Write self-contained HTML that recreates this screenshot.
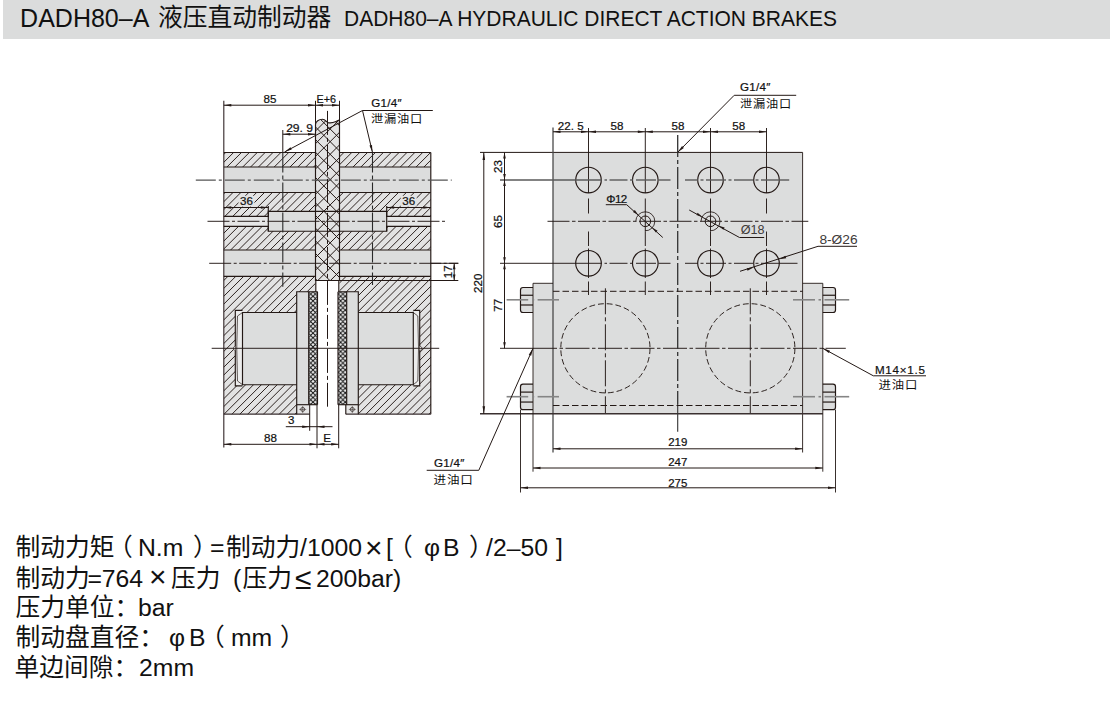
<!DOCTYPE html>
<html lang="zh-CN">
<head>
<meta charset="utf-8">
<title>DADH80-A 液压直动制动器</title>
<style>
html,body{margin:0;padding:0;background:#fff;}
body{width:1116px;height:703px;position:relative;overflow:hidden;font-family:"Liberation Sans","Noto Sans CJK SC",sans-serif;color:#111;}
#hdr{position:absolute;left:3px;top:0;width:1107px;height:38.5px;background:#dbdcdc;}
.h{position:absolute;white-space:nowrap;line-height:1;}
#dw{position:absolute;left:0;top:0;}
#dw text.d{font-family:"Liberation Sans",sans-serif;fill:#111;stroke:#111;stroke-width:0.22px;}
#dw text.a{font-family:"Liberation Sans",sans-serif;}
#dw text.c{font-family:"Liberation Sans","Noto Sans CJK SC",sans-serif;fill:#111;font-weight:400;letter-spacing:0.75px;}
.n{position:absolute;white-space:nowrap;font-size:24.75px;line-height:30px;height:30px;}
</style>
</head>
<body>
<div id="hdr"></div>
<span id="h1" class="h" style="left:20.10px;top:6.0px;font-size:25px;">DADH80–A</span>
<span id="h2" class="h" style="left:158.00px;top:6.0px;font-size:24.75px;">液压直动制动器</span>
<span id="h3" class="h" style="left:344.00px;top:7.5px;font-size:22px;transform:scaleX(0.954);transform-origin:0 0;">DADH80–A HYDRAULIC DIRECT ACTION BRAKES</span>
<svg id="dw" width="1116" height="703" viewBox="0 0 1116 703">
<defs>
<clipPath id="hc"><path d="M223.80,152.50H315.50V167.00H223.80ZM223.80,192.50H315.50V211.30H223.80ZM223.80,211.30H268.30V216.30H223.80ZM223.80,226.30H268.30V231.20H223.80ZM223.80,231.20H315.50V250.00H223.80ZM223.80,276.30H315.50V291.70H223.80ZM223.80,291.70H296.70V310.30H223.80ZM223.80,310.30H235.30V385.80H223.80ZM223.80,385.80H242.50V414.20H223.80ZM242.50,384.70H296.70V414.20H242.50ZM242.50,310.30H296.70V312.50H242.50ZM339.50,152.50H430.80V167.00H339.50ZM339.50,192.50H430.80V211.30H339.50ZM386.70,211.30H430.80V216.30H386.70ZM386.70,226.30H430.80V231.20H386.70ZM339.50,231.20H430.80V250.00H339.50ZM339.50,276.30H430.80V291.70H339.50ZM358.30,291.70H430.80V310.30H358.30ZM419.70,310.30H430.80V385.80H419.70ZM413.30,385.80H430.80V414.20H413.30ZM358.30,384.70H413.30V414.20H358.30ZM358.30,310.30H413.30V312.50H358.30Z"/></clipPath>
<clipPath id="dc"><path d="M315.5,280.5 V124.5 C315.5,121.5 319.0,119.2 322.5,119.2 C325.5,119.2 326.0,121.8 328.0,122.6 C330.5,123.4 333.5,122.6 336.0,121.5 C338.0,120.6 339.5,119.8 339.5,119.6 V280.5 Z"/></clipPath>
<clipPath id="pc"><path d="M308.70,291.70H317.50V404.70H308.70ZM338.00,291.70H346.70V404.70H338.00Z"/></clipPath>
<pattern id="fx" patternUnits="userSpaceOnUse" width="4.6" height="4.6" x="308.4" y="291.7"><path d="M-1,-1L5.6,5.6M5.6,-1L-1,5.6" stroke="#111" stroke-width="1.0" fill="none"/></pattern>
</defs>
<rect x="223.80" y="152.50" width="91.70" height="261.70" fill="#e3e3e3" stroke="none"/>
<rect x="339.50" y="152.50" width="91.30" height="261.70" fill="#e3e3e3" stroke="none"/>
<rect x="315.50" y="280.50" width="24.00" height="134.70" fill="#fff" stroke="none"/>
<rect x="296.70" y="404.70" width="18.80" height="10.50" fill="#fff" stroke="none"/>
<rect x="339.50" y="404.70" width="18.80" height="10.50" fill="#fff" stroke="none"/>
<rect x="223.80" y="167.00" width="91.70" height="25.50" fill="#dcdddd" stroke="none"/>
<rect x="339.50" y="167.00" width="91.30" height="25.50" fill="#dcdddd" stroke="none"/>
<rect x="223.80" y="250.00" width="91.70" height="26.30" fill="#dcdddd" stroke="none"/>
<rect x="339.50" y="250.00" width="91.30" height="26.30" fill="#dcdddd" stroke="none"/>
<rect x="223.80" y="216.30" width="44.50" height="10.00" fill="#e6e6e6" stroke="none"/>
<rect x="268.30" y="211.30" width="47.20" height="19.90" fill="#dcdddd" stroke="none"/>
<rect x="339.50" y="211.30" width="47.20" height="19.90" fill="#dcdddd" stroke="none"/>
<rect x="386.70" y="216.30" width="44.10" height="10.00" fill="#e6e6e6" stroke="none"/>
<rect x="242.50" y="312.50" width="54.20" height="72.20" fill="#dcdddd" stroke="none"/>
<rect x="358.30" y="312.50" width="55.00" height="72.20" fill="#dcdddd" stroke="none"/>
<rect x="235.30" y="310.30" width="7.20" height="75.50" fill="#ececec" stroke="none"/>
<rect x="413.30" y="310.30" width="6.40" height="75.50" fill="#ececec" stroke="none"/>
<rect x="296.70" y="291.70" width="12.00" height="113.00" fill="#dcdddd" stroke="none"/>
<rect x="346.70" y="291.70" width="11.60" height="113.00" fill="#dcdddd" stroke="none"/>
<rect x="308.40" y="291.70" width="9.10" height="113.00" fill="#f2f2f2" stroke="none"/>
<rect x="338.30" y="291.70" width="8.50" height="113.00" fill="#f2f2f2" stroke="none"/>
<rect x="296.70" y="404.70" width="13.00" height="9.50" fill="#e6e6e6" stroke="none"/>
<rect x="345.80" y="404.70" width="12.50" height="9.50" fill="#e6e6e6" stroke="none"/>
<path d="M315.5,280.5 V124.5 C315.5,121.5 319.0,119.2 322.5,119.2 C325.5,119.2 326.0,121.8 328.0,122.6 C330.5,123.4 333.5,122.6 336.0,121.5 C338.0,120.6 339.5,119.8 339.5,119.6 V280.5 Z" fill="#e3e3e3" stroke="none"/>
<g clip-path="url(#hc)">
<line x1="211.94" y1="150.50" x2="-53.76" y2="416.20" stroke="#231815" stroke-width="0.95"/>
<line x1="219.82" y1="150.50" x2="-45.88" y2="416.20" stroke="#231815" stroke-width="0.95"/>
<line x1="227.70" y1="150.50" x2="-38.00" y2="416.20" stroke="#231815" stroke-width="0.95"/>
<line x1="235.58" y1="150.50" x2="-30.12" y2="416.20" stroke="#231815" stroke-width="0.95"/>
<line x1="243.46" y1="150.50" x2="-22.24" y2="416.20" stroke="#231815" stroke-width="0.95"/>
<line x1="251.34" y1="150.50" x2="-14.36" y2="416.20" stroke="#231815" stroke-width="0.95"/>
<line x1="259.22" y1="150.50" x2="-6.48" y2="416.20" stroke="#231815" stroke-width="0.95"/>
<line x1="267.10" y1="150.50" x2="1.40" y2="416.20" stroke="#231815" stroke-width="0.95"/>
<line x1="274.98" y1="150.50" x2="9.28" y2="416.20" stroke="#231815" stroke-width="0.95"/>
<line x1="282.86" y1="150.50" x2="17.16" y2="416.20" stroke="#231815" stroke-width="0.95"/>
<line x1="290.74" y1="150.50" x2="25.04" y2="416.20" stroke="#231815" stroke-width="0.95"/>
<line x1="298.62" y1="150.50" x2="32.92" y2="416.20" stroke="#231815" stroke-width="0.95"/>
<line x1="306.50" y1="150.50" x2="40.80" y2="416.20" stroke="#231815" stroke-width="0.95"/>
<line x1="314.38" y1="150.50" x2="48.68" y2="416.20" stroke="#231815" stroke-width="0.95"/>
<line x1="322.26" y1="150.50" x2="56.56" y2="416.20" stroke="#231815" stroke-width="0.95"/>
<line x1="330.14" y1="150.50" x2="64.44" y2="416.20" stroke="#231815" stroke-width="0.95"/>
<line x1="338.02" y1="150.50" x2="72.32" y2="416.20" stroke="#231815" stroke-width="0.95"/>
<line x1="345.90" y1="150.50" x2="80.20" y2="416.20" stroke="#231815" stroke-width="0.95"/>
<line x1="353.78" y1="150.50" x2="88.08" y2="416.20" stroke="#231815" stroke-width="0.95"/>
<line x1="361.66" y1="150.50" x2="95.96" y2="416.20" stroke="#231815" stroke-width="0.95"/>
<line x1="369.54" y1="150.50" x2="103.84" y2="416.20" stroke="#231815" stroke-width="0.95"/>
<line x1="377.42" y1="150.50" x2="111.72" y2="416.20" stroke="#231815" stroke-width="0.95"/>
<line x1="385.30" y1="150.50" x2="119.60" y2="416.20" stroke="#231815" stroke-width="0.95"/>
<line x1="393.18" y1="150.50" x2="127.48" y2="416.20" stroke="#231815" stroke-width="0.95"/>
<line x1="401.06" y1="150.50" x2="135.36" y2="416.20" stroke="#231815" stroke-width="0.95"/>
<line x1="408.94" y1="150.50" x2="143.24" y2="416.20" stroke="#231815" stroke-width="0.95"/>
<line x1="416.82" y1="150.50" x2="151.12" y2="416.20" stroke="#231815" stroke-width="0.95"/>
<line x1="424.70" y1="150.50" x2="159.00" y2="416.20" stroke="#231815" stroke-width="0.95"/>
<line x1="432.58" y1="150.50" x2="166.88" y2="416.20" stroke="#231815" stroke-width="0.95"/>
<line x1="440.46" y1="150.50" x2="174.76" y2="416.20" stroke="#231815" stroke-width="0.95"/>
<line x1="448.34" y1="150.50" x2="182.64" y2="416.20" stroke="#231815" stroke-width="0.95"/>
<line x1="456.22" y1="150.50" x2="190.52" y2="416.20" stroke="#231815" stroke-width="0.95"/>
<line x1="464.10" y1="150.50" x2="198.40" y2="416.20" stroke="#231815" stroke-width="0.95"/>
<line x1="471.98" y1="150.50" x2="206.28" y2="416.20" stroke="#231815" stroke-width="0.95"/>
<line x1="479.86" y1="150.50" x2="214.16" y2="416.20" stroke="#231815" stroke-width="0.95"/>
<line x1="487.74" y1="150.50" x2="222.04" y2="416.20" stroke="#231815" stroke-width="0.95"/>
<line x1="495.62" y1="150.50" x2="229.92" y2="416.20" stroke="#231815" stroke-width="0.95"/>
<line x1="503.50" y1="150.50" x2="237.80" y2="416.20" stroke="#231815" stroke-width="0.95"/>
<line x1="511.38" y1="150.50" x2="245.68" y2="416.20" stroke="#231815" stroke-width="0.95"/>
<line x1="519.26" y1="150.50" x2="253.56" y2="416.20" stroke="#231815" stroke-width="0.95"/>
<line x1="527.14" y1="150.50" x2="261.44" y2="416.20" stroke="#231815" stroke-width="0.95"/>
<line x1="535.02" y1="150.50" x2="269.32" y2="416.20" stroke="#231815" stroke-width="0.95"/>
<line x1="542.90" y1="150.50" x2="277.20" y2="416.20" stroke="#231815" stroke-width="0.95"/>
<line x1="550.78" y1="150.50" x2="285.08" y2="416.20" stroke="#231815" stroke-width="0.95"/>
<line x1="558.66" y1="150.50" x2="292.96" y2="416.20" stroke="#231815" stroke-width="0.95"/>
<line x1="566.54" y1="150.50" x2="300.84" y2="416.20" stroke="#231815" stroke-width="0.95"/>
<line x1="574.42" y1="150.50" x2="308.72" y2="416.20" stroke="#231815" stroke-width="0.95"/>
<line x1="582.30" y1="150.50" x2="316.60" y2="416.20" stroke="#231815" stroke-width="0.95"/>
<line x1="590.18" y1="150.50" x2="324.48" y2="416.20" stroke="#231815" stroke-width="0.95"/>
<line x1="598.06" y1="150.50" x2="332.36" y2="416.20" stroke="#231815" stroke-width="0.95"/>
<line x1="605.94" y1="150.50" x2="340.24" y2="416.20" stroke="#231815" stroke-width="0.95"/>
<line x1="613.82" y1="150.50" x2="348.12" y2="416.20" stroke="#231815" stroke-width="0.95"/>
<line x1="621.70" y1="150.50" x2="356.00" y2="416.20" stroke="#231815" stroke-width="0.95"/>
<line x1="629.58" y1="150.50" x2="363.88" y2="416.20" stroke="#231815" stroke-width="0.95"/>
<line x1="637.46" y1="150.50" x2="371.76" y2="416.20" stroke="#231815" stroke-width="0.95"/>
<line x1="645.34" y1="150.50" x2="379.64" y2="416.20" stroke="#231815" stroke-width="0.95"/>
<line x1="653.22" y1="150.50" x2="387.52" y2="416.20" stroke="#231815" stroke-width="0.95"/>
<line x1="661.10" y1="150.50" x2="395.40" y2="416.20" stroke="#231815" stroke-width="0.95"/>
<line x1="668.98" y1="150.50" x2="403.28" y2="416.20" stroke="#231815" stroke-width="0.95"/>
<line x1="676.86" y1="150.50" x2="411.16" y2="416.20" stroke="#231815" stroke-width="0.95"/>
<line x1="684.74" y1="150.50" x2="419.04" y2="416.20" stroke="#231815" stroke-width="0.95"/>
<line x1="692.62" y1="150.50" x2="426.92" y2="416.20" stroke="#231815" stroke-width="0.95"/>
<line x1="700.50" y1="150.50" x2="434.80" y2="416.20" stroke="#231815" stroke-width="0.95"/>
</g>
<g clip-path="url(#dc)">
<line x1="295.55" y1="113.00" x2="125.55" y2="283.00" stroke="#231815" stroke-width="1.0"/>
<line x1="308.20" y1="113.00" x2="138.20" y2="283.00" stroke="#231815" stroke-width="1.0"/>
<line x1="320.85" y1="113.00" x2="150.85" y2="283.00" stroke="#231815" stroke-width="1.0"/>
<line x1="333.50" y1="113.00" x2="163.50" y2="283.00" stroke="#231815" stroke-width="1.0"/>
<line x1="346.15" y1="113.00" x2="176.15" y2="283.00" stroke="#231815" stroke-width="1.0"/>
<line x1="358.80" y1="113.00" x2="188.80" y2="283.00" stroke="#231815" stroke-width="1.0"/>
<line x1="371.45" y1="113.00" x2="201.45" y2="283.00" stroke="#231815" stroke-width="1.0"/>
<line x1="384.10" y1="113.00" x2="214.10" y2="283.00" stroke="#231815" stroke-width="1.0"/>
<line x1="396.75" y1="113.00" x2="226.75" y2="283.00" stroke="#231815" stroke-width="1.0"/>
<line x1="409.40" y1="113.00" x2="239.40" y2="283.00" stroke="#231815" stroke-width="1.0"/>
<line x1="422.05" y1="113.00" x2="252.05" y2="283.00" stroke="#231815" stroke-width="1.0"/>
<line x1="434.70" y1="113.00" x2="264.70" y2="283.00" stroke="#231815" stroke-width="1.0"/>
<line x1="447.35" y1="113.00" x2="277.35" y2="283.00" stroke="#231815" stroke-width="1.0"/>
<line x1="460.00" y1="113.00" x2="290.00" y2="283.00" stroke="#231815" stroke-width="1.0"/>
<line x1="472.65" y1="113.00" x2="302.65" y2="283.00" stroke="#231815" stroke-width="1.0"/>
<line x1="485.30" y1="113.00" x2="315.30" y2="283.00" stroke="#231815" stroke-width="1.0"/>
<line x1="497.95" y1="113.00" x2="327.95" y2="283.00" stroke="#231815" stroke-width="1.0"/>
<line x1="510.60" y1="113.00" x2="340.60" y2="283.00" stroke="#231815" stroke-width="1.0"/>
<line x1="124.40" y1="113.00" x2="294.40" y2="283.00" stroke="#231815" stroke-width="1.0"/>
<line x1="137.05" y1="113.00" x2="307.05" y2="283.00" stroke="#231815" stroke-width="1.0"/>
<line x1="149.70" y1="113.00" x2="319.70" y2="283.00" stroke="#231815" stroke-width="1.0"/>
<line x1="162.35" y1="113.00" x2="332.35" y2="283.00" stroke="#231815" stroke-width="1.0"/>
<line x1="175.00" y1="113.00" x2="345.00" y2="283.00" stroke="#231815" stroke-width="1.0"/>
<line x1="187.65" y1="113.00" x2="357.65" y2="283.00" stroke="#231815" stroke-width="1.0"/>
<line x1="200.30" y1="113.00" x2="370.30" y2="283.00" stroke="#231815" stroke-width="1.0"/>
<line x1="212.95" y1="113.00" x2="382.95" y2="283.00" stroke="#231815" stroke-width="1.0"/>
<line x1="225.60" y1="113.00" x2="395.60" y2="283.00" stroke="#231815" stroke-width="1.0"/>
<line x1="238.25" y1="113.00" x2="408.25" y2="283.00" stroke="#231815" stroke-width="1.0"/>
<line x1="250.90" y1="113.00" x2="420.90" y2="283.00" stroke="#231815" stroke-width="1.0"/>
<line x1="263.55" y1="113.00" x2="433.55" y2="283.00" stroke="#231815" stroke-width="1.0"/>
<line x1="276.20" y1="113.00" x2="446.20" y2="283.00" stroke="#231815" stroke-width="1.0"/>
<line x1="288.85" y1="113.00" x2="458.85" y2="283.00" stroke="#231815" stroke-width="1.0"/>
<line x1="301.50" y1="113.00" x2="471.50" y2="283.00" stroke="#231815" stroke-width="1.0"/>
<line x1="314.15" y1="113.00" x2="484.15" y2="283.00" stroke="#231815" stroke-width="1.0"/>
<line x1="326.80" y1="113.00" x2="496.80" y2="283.00" stroke="#231815" stroke-width="1.0"/>
<line x1="339.45" y1="113.00" x2="509.45" y2="283.00" stroke="#231815" stroke-width="1.0"/>
</g>
<g clip-path="url(#pc)">
<rect x="300" y="285" width="60" height="125" fill="url(#fx)"/>
</g>
<line x1="223.80" y1="100.80" x2="223.80" y2="447.50" stroke="#3a2f30" stroke-width="1.15"/>
<line x1="430.80" y1="152.50" x2="430.80" y2="414.20" stroke="#231815" stroke-width="1.15"/>
<line x1="223.80" y1="152.50" x2="315.50" y2="152.50" stroke="#231815" stroke-width="1.15"/>
<line x1="339.50" y1="152.50" x2="430.80" y2="152.50" stroke="#231815" stroke-width="1.15"/>
<line x1="223.80" y1="414.20" x2="309.70" y2="414.20" stroke="#3a2f30" stroke-width="1.3"/>
<line x1="345.80" y1="414.20" x2="430.80" y2="414.20" stroke="#3a2f30" stroke-width="1.3"/>
<line x1="223.80" y1="167.00" x2="315.50" y2="167.00" stroke="#231815" stroke-width="1.15"/>
<line x1="339.50" y1="167.00" x2="430.80" y2="167.00" stroke="#231815" stroke-width="1.15"/>
<line x1="223.80" y1="192.50" x2="315.50" y2="192.50" stroke="#231815" stroke-width="1.15"/>
<line x1="339.50" y1="192.50" x2="430.80" y2="192.50" stroke="#231815" stroke-width="1.15"/>
<line x1="223.80" y1="250.00" x2="315.50" y2="250.00" stroke="#231815" stroke-width="1.15"/>
<line x1="339.50" y1="250.00" x2="430.80" y2="250.00" stroke="#231815" stroke-width="1.15"/>
<line x1="223.80" y1="276.30" x2="315.50" y2="276.30" stroke="#231815" stroke-width="1.15"/>
<line x1="339.50" y1="276.30" x2="430.80" y2="276.30" stroke="#231815" stroke-width="1.15"/>
<polyline points="223.80,216.30 268.30,216.30 268.30,211.30 339.50,211.30 386.70,211.30 386.70,216.30 430.80,216.30" fill="none" stroke="#231815" stroke-width="1.15"/>
<polyline points="223.80,226.30 268.30,226.30 268.30,231.20 386.70,231.20 386.70,226.30 430.80,226.30" fill="none" stroke="#231815" stroke-width="1.15"/>
<line x1="268.30" y1="206.00" x2="268.30" y2="231.20" stroke="#231815" stroke-width="1.15"/>
<line x1="386.70" y1="206.00" x2="386.70" y2="231.20" stroke="#231815" stroke-width="1.15"/>
<path d="M315.5,280.5 V124.5 C315.5,121.5 319.0,119.2 322.5,119.2 C325.5,119.2 326.0,121.8 328.0,122.6 C330.5,123.4 333.5,122.6 336.0,121.5 C338.0,120.6 339.5,119.8 339.5,119.6 V280.5 Z" fill="none" stroke="#231815" stroke-width="1.15"/>
<line x1="315.50" y1="100.80" x2="315.50" y2="125.00" stroke="#231815" stroke-width="1.0"/>
<line x1="339.50" y1="100.80" x2="339.50" y2="125.00" stroke="#231815" stroke-width="1.0"/>
<line x1="339.50" y1="280.50" x2="458.30" y2="280.50" stroke="#231815" stroke-width="1.0"/>
<line x1="315.80" y1="280.50" x2="315.80" y2="291.70" stroke="#231815" stroke-width="1.15"/>
<line x1="338.80" y1="280.50" x2="338.80" y2="291.70" stroke="#231815" stroke-width="1.15"/>
<polyline points="296.70,414.20 296.70,291.70 317.50,291.70" fill="none" stroke="#231815" stroke-width="1.15"/>
<line x1="308.70" y1="291.70" x2="308.70" y2="404.70" stroke="#231815" stroke-width="1.15"/>
<line x1="317.50" y1="291.70" x2="317.50" y2="404.70" stroke="#231815" stroke-width="1.15"/>
<polyline points="358.30,414.20 358.30,291.70 338.00,291.70" fill="none" stroke="#231815" stroke-width="1.15"/>
<line x1="346.70" y1="291.70" x2="346.70" y2="404.70" stroke="#231815" stroke-width="1.15"/>
<line x1="338.00" y1="291.70" x2="338.00" y2="404.70" stroke="#231815" stroke-width="1.15"/>
<line x1="296.70" y1="404.70" x2="317.50" y2="404.70" stroke="#231815" stroke-width="1.15"/>
<line x1="338.00" y1="404.70" x2="358.30" y2="404.70" stroke="#231815" stroke-width="1.15"/>
<line x1="309.70" y1="404.70" x2="309.70" y2="430.80" stroke="#231815" stroke-width="1.0"/>
<line x1="345.80" y1="404.70" x2="345.80" y2="414.20" stroke="#231815" stroke-width="1.15"/>
<line x1="317.00" y1="404.70" x2="317.00" y2="448.30" stroke="#231815" stroke-width="1.0"/>
<line x1="338.70" y1="404.70" x2="338.70" y2="448.30" stroke="#231815" stroke-width="1.0"/>
<circle cx="302.70" cy="409.40" r="2.00" fill="none" stroke="#231815" stroke-width="0.7"/>
<line x1="299.20" y1="409.40" x2="306.20" y2="409.40" stroke="#231815" stroke-width="0.5"/>
<line x1="302.70" y1="406.00" x2="302.70" y2="413.00" stroke="#231815" stroke-width="0.5"/>
<circle cx="352.30" cy="409.40" r="2.00" fill="none" stroke="#231815" stroke-width="0.7"/>
<line x1="348.80" y1="409.40" x2="355.80" y2="409.40" stroke="#231815" stroke-width="0.5"/>
<line x1="352.30" y1="406.00" x2="352.30" y2="413.00" stroke="#231815" stroke-width="0.5"/>
<polyline points="296.70,312.50 242.50,312.50 242.50,384.70 296.70,384.70" fill="none" stroke="#231815" stroke-width="1.15"/>
<polyline points="358.30,312.50 413.30,312.50 413.30,384.70 358.30,384.70" fill="none" stroke="#231815" stroke-width="1.15"/>
<polyline points="242.50,310.30 235.30,310.30 235.30,385.80 242.50,385.80" fill="none" stroke="#231815" stroke-width="1.15"/>
<polyline points="413.30,310.30 419.70,310.30 419.70,385.80 413.30,385.80" fill="none" stroke="#231815" stroke-width="1.15"/>
<path d="M242.5,312.5 L237.5,316 Q236,348 237.5,381 L242.5,384.7" fill="none" stroke="#231815" stroke-width="0.7"/>
<path d="M413.3,312.5 L417.8,316 Q419.2,348 417.8,381 L413.3,384.7" fill="none" stroke="#231815" stroke-width="0.7"/>
<path d="M235.3,346 L233.6,347.2 V349.4 L235.3,350.6" fill="#fff" stroke="#231815" stroke-width="0.6"/>
<path d="M419.7,346 L421.6,347.2 V349.4 L419.7,350.6" fill="#fff" stroke="#231815" stroke-width="0.6"/>
<line x1="195.80" y1="180.20" x2="451.70" y2="180.20" stroke="#555" stroke-width="1.3" stroke-dasharray="20 3 3 3"/>
<line x1="207.50" y1="221.30" x2="447.50" y2="221.30" stroke="#231815" stroke-width="0.95" stroke-dasharray="22 2.5 3 2.5"/>
<line x1="209.20" y1="263.30" x2="458.30" y2="263.30" stroke="#231815" stroke-width="0.95" stroke-dasharray="22 2.5 3 2.5"/>
<line x1="430.80" y1="263.30" x2="458.30" y2="263.30" stroke="#231815" stroke-width="0.95"/>
<line x1="211.70" y1="348.30" x2="439.20" y2="348.30" stroke="#231815" stroke-width="0.95"/>
<line x1="327.50" y1="110.90" x2="327.50" y2="406.70" stroke="#231815" stroke-width="1.0" stroke-dasharray="24 3 4 3"/>
<line x1="282.80" y1="130.00" x2="282.80" y2="152.50" stroke="#231815" stroke-width="1.0"/>
<line x1="282.80" y1="152.50" x2="282.80" y2="286.70" stroke="#2a2a2a" stroke-width="1.1" stroke-dasharray="20 3 4 3"/>
<line x1="372.50" y1="152.50" x2="372.50" y2="285.00" stroke="#2a2a2a" stroke-width="1.1" stroke-dasharray="20 3 4 3"/>
<line x1="223.80" y1="105.20" x2="315.50" y2="105.20" stroke="#231815" stroke-width="1.0"/>
<polygon points="223.80,105.20 231.30,103.90 231.30,106.50" fill="#231815" stroke="none"/>
<polygon points="315.50,105.20 308.00,106.50 308.00,103.90" fill="#231815" stroke="none"/>
<text id="t1" class="d" x="270.05" y="102.75" font-size="11.6" text-anchor="middle">85</text>
<line x1="315.50" y1="105.20" x2="339.50" y2="105.20" stroke="#231815" stroke-width="1.0"/>
<polygon points="315.50,105.20 323.00,103.90 323.00,106.50" fill="#231815" stroke="none"/>
<polygon points="339.50,105.20 332.00,106.50 332.00,103.90" fill="#231815" stroke="none"/>
<text id="t2" class="d" transform="translate(326.32 102.75) scale(0.927 1)" font-size="11.6" text-anchor="middle">E+6</text>
<line x1="282.80" y1="134.20" x2="315.50" y2="134.20" stroke="#231815" stroke-width="1.0"/>
<polygon points="282.80,134.20 290.30,132.90 290.30,135.50" fill="#231815" stroke="none"/>
<polygon points="315.50,134.20 308.00,135.50 308.00,132.90" fill="#231815" stroke="none"/>
<text id="t3" class="d" transform="translate(299.58 131.50) scale(1.042 1)" font-size="11.6" text-anchor="middle">29. 9</text>
<rect x="238.50" y="195.80" width="16.00" height="10.80" fill="#e3e3e3" stroke="none"/>
<rect x="400.70" y="195.80" width="16.00" height="10.80" fill="#e3e3e3" stroke="none"/>
<line x1="223.80" y1="207.50" x2="268.30" y2="207.50" stroke="#231815" stroke-width="1.0"/>
<polygon points="223.80,207.50 231.30,206.20 231.30,208.80" fill="#231815" stroke="none"/>
<polygon points="268.30,207.50 260.80,208.80 260.80,206.20" fill="#231815" stroke="none"/>
<text id="t4" class="d" x="246.50" y="204.95" font-size="11.6" text-anchor="middle">36</text>
<line x1="386.70" y1="207.50" x2="430.80" y2="207.50" stroke="#231815" stroke-width="1.0"/>
<polygon points="386.70,207.50 394.20,206.20 394.20,208.80" fill="#231815" stroke="none"/>
<polygon points="430.80,207.50 423.30,208.80 423.30,206.20" fill="#231815" stroke="none"/>
<text id="t5" class="d" x="408.68" y="204.95" font-size="11.6" text-anchor="middle">36</text>
<line x1="454.20" y1="263.30" x2="454.20" y2="280.50" stroke="#231815" stroke-width="1.0"/>
<polygon points="454.20,263.30 455.50,269.30 452.90,269.30" fill="#231815" stroke="none"/>
<polygon points="454.20,280.50 452.90,274.50 455.50,274.50" fill="#231815" stroke="none"/>
<text id="t6" class="d" transform="translate(451.50 271.82) rotate(-90)" font-size="11.6" text-anchor="middle">17</text>
<line x1="285.80" y1="426.70" x2="332.50" y2="426.70" stroke="#231815" stroke-width="1.0"/>
<polygon points="309.70,426.70 302.20,428.00 302.20,425.40" fill="#231815" stroke="none"/>
<polygon points="317.00,426.70 324.50,425.40 324.50,428.00" fill="#231815" stroke="none"/>
<text id="t7" class="d" x="291.18" y="424.35" font-size="11.6" text-anchor="middle">3</text>
<line x1="223.80" y1="444.30" x2="317.00" y2="444.30" stroke="#231815" stroke-width="1.0"/>
<polygon points="223.80,444.30 231.30,443.00 231.30,445.60" fill="#231815" stroke="none"/>
<polygon points="317.00,444.30 309.50,445.60 309.50,443.00" fill="#231815" stroke="none"/>
<text id="t8" class="d" x="270.45" y="442.00" font-size="11.6" text-anchor="middle">88</text>
<line x1="317.00" y1="444.30" x2="338.70" y2="444.30" stroke="#231815" stroke-width="1.0"/>
<polygon points="317.00,444.30 324.50,443.00 324.50,445.60" fill="#231815" stroke="none"/>
<polygon points="338.70,444.30 331.20,445.60 331.20,443.00" fill="#231815" stroke="none"/>
<text id="t9" class="d" x="327.00" y="442.25" font-size="11.6" text-anchor="middle">E</text>
<line x1="362.50" y1="110.50" x2="432.80" y2="110.50" stroke="#231815" stroke-width="1.0"/>
<line x1="362.50" y1="110.50" x2="284.50" y2="152.00" stroke="#231815" stroke-width="1.0"/>
<polygon points="284.50,152.00 290.51,147.33 291.73,149.62" fill="#231815" stroke="none"/>
<line x1="362.50" y1="110.50" x2="372.50" y2="152.50" stroke="#231815" stroke-width="1.0"/>
<polygon points="372.50,152.50 369.50,145.51 372.03,144.90" fill="#231815" stroke="none"/>
<text id="t10" class="d" x="371.20" y="107.35" font-size="11.6" textLength="30.5" lengthAdjust="spacing">G1/4″</text>
<text id="t11" class="c" transform="translate(370.97 123.15) scale(1.055 1)" font-size="11.6">泄漏油口</text>
<rect x="553.00" y="152.40" width="249.60" height="261.40" fill="#dcdddd" stroke="none"/>
<rect x="533.00" y="283.30" width="20.00" height="130.50" fill="#dcdddd" stroke="none"/>
<rect x="802.60" y="283.30" width="20.20" height="130.50" fill="#dcdddd" stroke="none"/>
<path d="M533.0,287.5H523.0Q520.5,287.5 520.5,290.0V310.0Q520.5,312.5 523.0,312.5H533.0" fill="#dcdddd" stroke="#231815" stroke-width="1.2"/>
<line x1="520.50" y1="295.25" x2="533.00" y2="295.25" stroke="#231815" stroke-width="1.2"/>
<line x1="520.50" y1="305.00" x2="533.00" y2="305.00" stroke="#231815" stroke-width="1.2"/>
<path d="M533.0,384.2H523.0Q520.5,384.2 520.5,386.7V407.2Q520.5,409.7 523.0,409.7H533.0" fill="#dcdddd" stroke="#231815" stroke-width="1.2"/>
<line x1="520.50" y1="392.10" x2="533.00" y2="392.10" stroke="#231815" stroke-width="1.2"/>
<line x1="520.50" y1="402.05" x2="533.00" y2="402.05" stroke="#231815" stroke-width="1.2"/>
<path d="M822.8,287.5H833.0Q835.5,287.5 835.5,290.0V310.0Q835.5,312.5 833.0,312.5H822.8" fill="#dcdddd" stroke="#231815" stroke-width="1.2"/>
<line x1="822.80" y1="295.25" x2="835.50" y2="295.25" stroke="#231815" stroke-width="1.2"/>
<line x1="822.80" y1="305.00" x2="835.50" y2="305.00" stroke="#231815" stroke-width="1.2"/>
<path d="M822.8,384.2H833.0Q835.5,384.2 835.5,386.7V407.2Q835.5,409.7 833.0,409.7H822.8" fill="#dcdddd" stroke="#231815" stroke-width="1.2"/>
<line x1="822.80" y1="392.10" x2="835.50" y2="392.10" stroke="#231815" stroke-width="1.2"/>
<line x1="822.80" y1="402.05" x2="835.50" y2="402.05" stroke="#231815" stroke-width="1.2"/>
<line x1="480.00" y1="152.40" x2="802.60" y2="152.40" stroke="#231815" stroke-width="1.0"/>
<line x1="553.00" y1="127.50" x2="553.00" y2="452.50" stroke="#4a4a4a" stroke-width="1.3"/>
<line x1="802.60" y1="152.40" x2="802.60" y2="452.50" stroke="#231815" stroke-width="0.9"/>
<line x1="480.00" y1="413.80" x2="822.80" y2="413.80" stroke="#3a3030" stroke-width="1.4"/>
<polyline points="533.00,471.70 533.00,283.30 553.00,283.30" fill="none" stroke="#231815" stroke-width="0.9"/>
<polyline points="822.80,471.70 822.80,283.30 802.60,283.30" fill="none" stroke="#231815" stroke-width="0.9"/>
<line x1="520.50" y1="409.70" x2="520.50" y2="492.50" stroke="#231815" stroke-width="0.9"/>
<line x1="835.50" y1="409.70" x2="835.50" y2="492.50" stroke="#231815" stroke-width="0.9"/>
<circle cx="588.50" cy="180.00" r="12.80" fill="none" stroke="#231815" stroke-width="1.15"/>
<circle cx="588.50" cy="263.30" r="12.80" fill="none" stroke="#231815" stroke-width="1.15"/>
<circle cx="645.30" cy="180.00" r="12.80" fill="none" stroke="#231815" stroke-width="1.15"/>
<circle cx="645.30" cy="263.30" r="12.80" fill="none" stroke="#231815" stroke-width="1.15"/>
<circle cx="710.50" cy="180.00" r="12.80" fill="none" stroke="#231815" stroke-width="1.15"/>
<circle cx="710.50" cy="263.30" r="12.80" fill="none" stroke="#231815" stroke-width="1.15"/>
<circle cx="766.50" cy="180.00" r="12.80" fill="none" stroke="#231815" stroke-width="1.15"/>
<circle cx="766.50" cy="263.30" r="12.80" fill="none" stroke="#231815" stroke-width="1.15"/>
<line x1="588.50" y1="128.00" x2="588.50" y2="193.00" stroke="#231815" stroke-width="0.95"/>
<line x1="588.50" y1="198.50" x2="588.50" y2="213.50" stroke="#231815" stroke-width="0.95"/>
<line x1="588.50" y1="231.50" x2="588.50" y2="246.00" stroke="#231815" stroke-width="0.95"/>
<line x1="588.50" y1="248.50" x2="588.50" y2="278.00" stroke="#231815" stroke-width="0.95"/>
<line x1="588.50" y1="281.50" x2="588.50" y2="295.00" stroke="#231815" stroke-width="0.95"/>
<line x1="645.30" y1="128.00" x2="645.30" y2="193.00" stroke="#231815" stroke-width="0.95"/>
<line x1="645.30" y1="198.50" x2="645.30" y2="213.50" stroke="#231815" stroke-width="0.95"/>
<line x1="645.30" y1="231.50" x2="645.30" y2="246.00" stroke="#231815" stroke-width="0.95"/>
<line x1="645.30" y1="248.50" x2="645.30" y2="278.00" stroke="#231815" stroke-width="0.95"/>
<line x1="645.30" y1="281.50" x2="645.30" y2="295.00" stroke="#231815" stroke-width="0.95"/>
<line x1="710.50" y1="128.00" x2="710.50" y2="193.00" stroke="#231815" stroke-width="0.95"/>
<line x1="710.50" y1="198.50" x2="710.50" y2="213.50" stroke="#231815" stroke-width="0.95"/>
<line x1="710.50" y1="231.50" x2="710.50" y2="246.00" stroke="#231815" stroke-width="0.95"/>
<line x1="710.50" y1="248.50" x2="710.50" y2="278.00" stroke="#231815" stroke-width="0.95"/>
<line x1="710.50" y1="281.50" x2="710.50" y2="295.00" stroke="#231815" stroke-width="0.95"/>
<line x1="766.50" y1="128.00" x2="766.50" y2="193.00" stroke="#231815" stroke-width="0.95"/>
<line x1="766.50" y1="198.50" x2="766.50" y2="213.50" stroke="#231815" stroke-width="0.95"/>
<line x1="766.50" y1="231.50" x2="766.50" y2="246.00" stroke="#231815" stroke-width="0.95"/>
<line x1="766.50" y1="248.50" x2="766.50" y2="278.00" stroke="#231815" stroke-width="0.95"/>
<line x1="766.50" y1="281.50" x2="766.50" y2="295.00" stroke="#231815" stroke-width="0.95"/>
<line x1="645.30" y1="213.50" x2="645.30" y2="231.50" stroke="#231815" stroke-width="0.95"/>
<line x1="710.50" y1="213.50" x2="710.50" y2="231.50" stroke="#231815" stroke-width="0.95"/>
<line x1="500.00" y1="180.00" x2="601.80" y2="180.00" stroke="#5a5a5a" stroke-width="1.4"/>
<line x1="604.50" y1="180.00" x2="607.00" y2="180.00" stroke="#5a5a5a" stroke-width="1.4"/>
<line x1="609.50" y1="180.00" x2="627.50" y2="180.00" stroke="#5a5a5a" stroke-width="1.4"/>
<line x1="630.00" y1="180.00" x2="633.00" y2="180.00" stroke="#5a5a5a" stroke-width="1.4"/>
<line x1="636.00" y1="180.00" x2="656.00" y2="180.00" stroke="#5a5a5a" stroke-width="1.4"/>
<line x1="658.50" y1="180.00" x2="670.50" y2="180.00" stroke="#5a5a5a" stroke-width="1.4"/>
<line x1="685.00" y1="180.00" x2="698.00" y2="180.00" stroke="#5a5a5a" stroke-width="1.4"/>
<line x1="700.50" y1="180.00" x2="703.50" y2="180.00" stroke="#5a5a5a" stroke-width="1.4"/>
<line x1="706.00" y1="180.00" x2="726.00" y2="180.00" stroke="#5a5a5a" stroke-width="1.4"/>
<line x1="728.50" y1="180.00" x2="731.50" y2="180.00" stroke="#5a5a5a" stroke-width="1.4"/>
<line x1="734.00" y1="180.00" x2="753.00" y2="180.00" stroke="#5a5a5a" stroke-width="1.4"/>
<line x1="755.50" y1="180.00" x2="758.50" y2="180.00" stroke="#5a5a5a" stroke-width="1.4"/>
<line x1="761.00" y1="180.00" x2="789.20" y2="180.00" stroke="#5a5a5a" stroke-width="1.4"/>
<line x1="500.00" y1="263.30" x2="601.80" y2="263.30" stroke="#231815" stroke-width="0.95"/>
<line x1="604.50" y1="263.30" x2="607.00" y2="263.30" stroke="#231815" stroke-width="0.95"/>
<line x1="609.50" y1="263.30" x2="627.50" y2="263.30" stroke="#231815" stroke-width="0.95"/>
<line x1="630.00" y1="263.30" x2="633.00" y2="263.30" stroke="#231815" stroke-width="0.95"/>
<line x1="636.00" y1="263.30" x2="656.00" y2="263.30" stroke="#231815" stroke-width="0.95"/>
<line x1="658.50" y1="263.30" x2="670.50" y2="263.30" stroke="#231815" stroke-width="0.95"/>
<line x1="685.00" y1="263.30" x2="698.00" y2="263.30" stroke="#231815" stroke-width="0.95"/>
<line x1="700.50" y1="263.30" x2="703.50" y2="263.30" stroke="#231815" stroke-width="0.95"/>
<line x1="706.00" y1="263.30" x2="726.00" y2="263.30" stroke="#231815" stroke-width="0.95"/>
<line x1="728.50" y1="263.30" x2="731.50" y2="263.30" stroke="#231815" stroke-width="0.95"/>
<line x1="734.00" y1="263.30" x2="753.00" y2="263.30" stroke="#231815" stroke-width="0.95"/>
<line x1="755.50" y1="263.30" x2="758.50" y2="263.30" stroke="#231815" stroke-width="0.95"/>
<line x1="761.00" y1="263.30" x2="797.50" y2="263.30" stroke="#231815" stroke-width="0.95"/>
<line x1="547.50" y1="221.30" x2="808.30" y2="221.30" stroke="#231815" stroke-width="0.95" stroke-dasharray="22 2.5 3.5 2.5"/>
<line x1="500.00" y1="348.30" x2="533.00" y2="348.30" stroke="#231815" stroke-width="0.95"/>
<line x1="533.00" y1="348.30" x2="845.80" y2="348.30" stroke="#231815" stroke-width="0.95" stroke-dasharray="24 2.5 3.5 2.5"/>
<line x1="677.70" y1="135.00" x2="677.70" y2="404.00" stroke="#333" stroke-width="1.3" stroke-dasharray="22 3 4 3"/>
<line x1="677.70" y1="404.00" x2="677.70" y2="431.70" stroke="#333" stroke-width="1.1"/>
<circle cx="645.30" cy="221.30" r="5.30" fill="none" stroke="#231815" stroke-width="1.0"/>
<path d="M635.80,221.30 A9.5,9.5 0 1 1 644.97,230.79" fill="none" stroke="#231815" stroke-width="0.85"/>
<circle cx="710.50" cy="221.30" r="5.30" fill="none" stroke="#231815" stroke-width="1.0"/>
<path d="M701.00,221.30 A9.5,9.5 0 1 1 710.17,230.79" fill="none" stroke="#231815" stroke-width="0.85"/>
<circle cx="605.40" cy="348.30" r="44.60" fill="none" stroke="#231815" stroke-width="0.95" stroke-dasharray="5.8 3"/>
<line x1="605.40" y1="288.30" x2="605.40" y2="413.00" stroke="#231815" stroke-width="0.95" stroke-dasharray="26 3 4 3"/>
<circle cx="750.30" cy="348.30" r="44.60" fill="none" stroke="#231815" stroke-width="0.95" stroke-dasharray="5.8 3"/>
<line x1="750.30" y1="288.30" x2="750.30" y2="413.00" stroke="#231815" stroke-width="0.95" stroke-dasharray="26 3 4 3"/>
<line x1="553.00" y1="291.30" x2="802.60" y2="291.30" stroke="#231815" stroke-width="1.0" stroke-dasharray="6.5 3"/>
<line x1="553.00" y1="405.50" x2="802.60" y2="405.50" stroke="#231815" stroke-width="1.0" stroke-dasharray="6.5 3"/>
<line x1="506.60" y1="299.80" x2="528.20" y2="299.80" stroke="#858585" stroke-width="1.6"/>
<line x1="532.00" y1="299.80" x2="534.20" y2="299.80" stroke="#858585" stroke-width="1.6"/>
<line x1="537.60" y1="299.80" x2="559.00" y2="299.80" stroke="#858585" stroke-width="1.6"/>
<line x1="793.00" y1="299.80" x2="815.00" y2="299.80" stroke="#858585" stroke-width="1.6"/>
<line x1="818.50" y1="299.80" x2="821.00" y2="299.80" stroke="#858585" stroke-width="1.6"/>
<line x1="824.50" y1="299.80" x2="849.20" y2="299.80" stroke="#858585" stroke-width="1.6"/>
<line x1="506.60" y1="396.70" x2="528.20" y2="396.70" stroke="#858585" stroke-width="1.6"/>
<line x1="532.00" y1="396.70" x2="534.20" y2="396.70" stroke="#858585" stroke-width="1.6"/>
<line x1="537.60" y1="396.70" x2="559.00" y2="396.70" stroke="#858585" stroke-width="1.6"/>
<line x1="793.00" y1="396.70" x2="815.00" y2="396.70" stroke="#858585" stroke-width="1.6"/>
<line x1="818.50" y1="396.70" x2="821.00" y2="396.70" stroke="#858585" stroke-width="1.6"/>
<line x1="824.50" y1="396.70" x2="849.20" y2="396.70" stroke="#858585" stroke-width="1.6"/>
<line x1="483.80" y1="152.40" x2="483.80" y2="413.80" stroke="#231815" stroke-width="1.0"/>
<polygon points="483.80,152.40 485.10,159.90 482.50,159.90" fill="#231815" stroke="none"/>
<polygon points="483.80,413.80 482.50,406.30 485.10,406.30" fill="#231815" stroke="none"/>
<text id="t12" class="d" transform="translate(482.15 283.30) rotate(-90)" font-size="11.6" text-anchor="middle">220</text>
<line x1="504.50" y1="152.40" x2="504.50" y2="348.30" stroke="#231815" stroke-width="1.0"/>
<polygon points="504.50,152.40 505.80,158.40 503.20,158.40" fill="#231815" stroke="none"/>
<polygon points="504.50,180.00 503.20,174.00 505.80,174.00" fill="#231815" stroke="none"/>
<polygon points="504.50,180.00 505.80,186.00 503.20,186.00" fill="#231815" stroke="none"/>
<polygon points="504.50,263.30 503.20,257.30 505.80,257.30" fill="#231815" stroke="none"/>
<polygon points="504.50,263.30 505.80,269.30 503.20,269.30" fill="#231815" stroke="none"/>
<polygon points="504.50,348.30 503.20,342.30 505.80,342.30" fill="#231815" stroke="none"/>
<text id="t13" class="d" transform="translate(502.20 166.43) rotate(-90)" font-size="11.6" text-anchor="middle">23</text>
<text id="t14" class="d" transform="translate(502.00 221.50) rotate(-90)" font-size="11.6" text-anchor="middle">65</text>
<text id="t15" class="d" transform="translate(502.20 305.30) rotate(-90)" font-size="11.6" text-anchor="middle">77</text>
<line x1="553.00" y1="131.80" x2="766.50" y2="131.80" stroke="#231815" stroke-width="1.0"/>
<polygon points="553.00,131.80 560.50,130.50 560.50,133.10" fill="#231815" stroke="none"/>
<polygon points="588.50,131.80 581.00,133.10 581.00,130.50" fill="#231815" stroke="none"/>
<polygon points="588.50,131.80 596.00,130.50 596.00,133.10" fill="#231815" stroke="none"/>
<polygon points="645.30,131.80 637.80,133.10 637.80,130.50" fill="#231815" stroke="none"/>
<polygon points="645.30,131.80 652.80,130.50 652.80,133.10" fill="#231815" stroke="none"/>
<polygon points="710.50,131.80 703.00,133.10 703.00,130.50" fill="#231815" stroke="none"/>
<polygon points="710.50,131.80 718.00,130.50 718.00,133.10" fill="#231815" stroke="none"/>
<polygon points="766.50,131.80 759.00,133.10 759.00,130.50" fill="#231815" stroke="none"/>
<text id="t16" class="d" transform="translate(570.72 129.80) scale(1.000 1)" font-size="11.6" text-anchor="middle">22. 5</text>
<text id="t17" class="d" x="617.05" y="129.80" font-size="11.6" text-anchor="middle">58</text>
<text id="t18" class="d" x="677.95" y="129.80" font-size="11.6" text-anchor="middle">58</text>
<text id="t19" class="d" x="738.67" y="129.80" font-size="11.6" text-anchor="middle">58</text>
<line x1="553.00" y1="448.80" x2="802.60" y2="448.80" stroke="#231815" stroke-width="1.0"/>
<polygon points="553.00,448.80 560.50,447.50 560.50,450.10" fill="#231815" stroke="none"/>
<polygon points="802.60,448.80 795.10,450.10 795.10,447.50" fill="#231815" stroke="none"/>
<text id="t20" class="d" transform="translate(677.77 446.40) scale(0.989 1)" font-size="11.6" text-anchor="middle">219</text>
<line x1="533.00" y1="468.00" x2="822.80" y2="468.00" stroke="#231815" stroke-width="1.0"/>
<polygon points="533.00,468.00 540.50,466.70 540.50,469.30" fill="#231815" stroke="none"/>
<polygon points="822.80,468.00 815.30,469.30 815.30,466.70" fill="#231815" stroke="none"/>
<text id="t21" class="d" transform="translate(677.77 466.15) scale(0.989 1)" font-size="11.6" text-anchor="middle">247</text>
<line x1="520.50" y1="487.80" x2="835.50" y2="487.80" stroke="#231815" stroke-width="1.0"/>
<polygon points="520.50,487.80 528.00,486.50 528.00,489.10" fill="#231815" stroke="none"/>
<polygon points="835.50,487.80 828.00,489.10 828.00,486.50" fill="#231815" stroke="none"/>
<text id="t22" class="d" transform="translate(677.77 486.55) scale(0.989 1)" font-size="11.6" text-anchor="middle">275</text>
<line x1="734.20" y1="95.30" x2="796.20" y2="95.30" stroke="#231815" stroke-width="1.0"/>
<line x1="734.20" y1="95.30" x2="677.70" y2="152.30" stroke="#231815" stroke-width="1.0"/>
<polygon points="677.70,152.30 682.06,146.06 683.90,147.89" fill="#231815" stroke="none"/>
<text id="t23" class="d" x="739.90" y="91.30" font-size="11.6" textLength="30.5" lengthAdjust="spacing">G1/4″</text>
<text id="t24" class="c" transform="translate(740.05 107.80) scale(1.052 1)" font-size="11.6">泄漏油口</text>
<line x1="426.70" y1="470.30" x2="478.80" y2="470.30" stroke="#231815" stroke-width="1.0"/>
<line x1="478.80" y1="470.30" x2="533.00" y2="348.30" stroke="#231815" stroke-width="1.0"/>
<polygon points="533.00,348.30 531.14,355.68 528.77,354.63" fill="#231815" stroke="none"/>
<text id="t25" class="d" x="433.95" y="467.00" font-size="11.6" textLength="30.5" lengthAdjust="spacing">G1/4″</text>
<text id="t26" class="c" transform="translate(433.62 483.65) scale(1.083 1)" font-size="11.6">进油口</text>
<line x1="873.30" y1="375.80" x2="926.00" y2="375.80" stroke="#231815" stroke-width="1.0"/>
<line x1="873.30" y1="375.80" x2="822.80" y2="348.30" stroke="#231815" stroke-width="1.0"/>
<polygon points="822.80,348.30 830.01,350.75 828.76,353.03" fill="#231815" stroke="none"/>
<text id="t27" class="d" x="874.90" y="373.90" font-size="11.6" textLength="50" lengthAdjust="spacing">M14×1.5</text>
<text id="t28" class="c" transform="translate(878.62 389.05) scale(1.069 1)" font-size="11.6">进油口</text>
<line x1="605.80" y1="204.70" x2="626.70" y2="204.70" stroke="#231815" stroke-width="1.0"/>
<line x1="626.70" y1="204.70" x2="662.80" y2="237.50" stroke="#231815" stroke-width="1.0"/>
<polygon points="638.34,214.98 633.03,211.91 634.78,209.98" fill="#231815" stroke="none"/>
<polygon points="652.26,227.62 657.57,230.69 655.82,232.62" fill="#231815" stroke="none"/>
<text id="t29" class="d" x="606.20" y="202.70" font-size="11.6" textLength="21" lengthAdjust="spacing">Φ12</text>
<line x1="689.20" y1="210.00" x2="739.50" y2="237.50" stroke="#231815" stroke-width="1.0"/>
<line x1="739.50" y1="237.50" x2="764.20" y2="237.50" stroke="#231815" stroke-width="1.0"/>
<polygon points="702.25,216.79 696.36,215.05 697.61,212.77" fill="#231815" stroke="none"/>
<polygon points="718.75,225.81 724.64,227.55 723.39,229.83" fill="#231815" stroke="none"/>
<text id="t30" class="a" transform="translate(740.75 234.35) scale(1.053 1)" font-size="12" fill="#3e3a39">Ø18</text>
<line x1="818.00" y1="246.30" x2="857.00" y2="246.30" stroke="#231815" stroke-width="1.0"/>
<line x1="818.00" y1="246.30" x2="740.00" y2="271.30" stroke="#231815" stroke-width="1.0"/>
<polygon points="779.17,259.24 785.43,255.87 786.23,258.34" fill="#231815" stroke="none"/>
<polygon points="753.83,267.36 747.57,270.73 746.77,268.26" fill="#231815" stroke="none"/>
<text id="t31" class="a" transform="translate(819.38 244.35) scale(1.147 1)" font-size="12" fill="#3e3a39">8-Ø26</text>
</svg>
<span id="n1a" class="n" style="left:15.40px;top:533.30px;">制动力矩</span>
<span id="n1b" class="n" style="left:108.00px;top:533.30px;">（</span>
<span id="n1c" class="n" style="left:138.00px;top:533.30px;">N.m</span>
<span id="n1d" class="n" style="left:193.00px;top:533.30px;">）</span>
<span id="n1e" class="n" style="left:210.00px;top:533.30px;">=</span>
<span id="n1f" class="n" style="left:226.00px;top:533.30px;">制动力</span>
<span id="n1g" class="n" style="left:300.00px;top:533.30px;">/1000</span>
<span id="n1h" class="n" style="left:365.00px;top:532.60px;font-size:30px;">×</span>
<span id="n1i" class="n" style="left:386.00px;top:533.30px;">[</span>
<span id="n1j" class="n" style="left:388.00px;top:533.30px;">（</span>
<span id="n1k" class="n" style="left:424.00px;top:533.30px;">φ</span>
<span id="n1l" class="n" style="left:443.00px;top:533.30px;">B</span>
<span id="n1m" class="n" style="left:469.00px;top:533.30px;">）</span>
<span id="n1n" class="n" style="left:486.00px;top:533.30px;">/2–50</span>
<span id="n1o" class="n" style="left:556.00px;top:533.30px;">]</span>
<span id="n2a" class="n" style="left:15.40px;top:563.50px;">制动力</span>
<span id="n2b" class="n" style="left:87.40px;top:563.50px;">=764</span>
<span id="n2c" class="n" style="left:149.00px;top:561.80px;font-size:30px;">×</span>
<span id="n2d" class="n" style="left:171.00px;top:563.50px;">压力</span>
<span id="n2e" class="n" style="left:233.00px;top:563.50px;">(</span>
<span id="n2f" class="n" style="left:242.40px;top:563.50px;">压力</span>
<span id="n2g" class="n" style="left:295.00px;top:563.70px;font-size:30px;">≤</span>
<span id="n2h" class="n" style="left:316.00px;top:563.50px;">200bar)</span>
<span id="n3a" class="n" style="left:15.40px;top:593.30px;">压力单位：</span>
<span id="n3b" class="n" style="left:138.00px;top:593.30px;">bar</span>
<span id="n4a" class="n" style="left:15.40px;top:623.30px;">制动盘直径：</span>
<span id="n4b" class="n" style="left:169.00px;top:623.30px;">φ</span>
<span id="n4c" class="n" style="left:189.00px;top:623.30px;">B</span>
<span id="n4d" class="n" style="left:200.00px;top:623.30px;">（</span>
<span id="n4e" class="n" style="left:231.00px;top:623.30px;">mm</span>
<span id="n4f" class="n" style="left:280.00px;top:623.30px;">）</span>
<span id="n5a" class="n" style="left:14.40px;top:653.00px;">单边间隙：</span>
<span id="n5b" class="n" style="left:139.00px;top:653.00px;">2mm</span>
</body>
</html>
